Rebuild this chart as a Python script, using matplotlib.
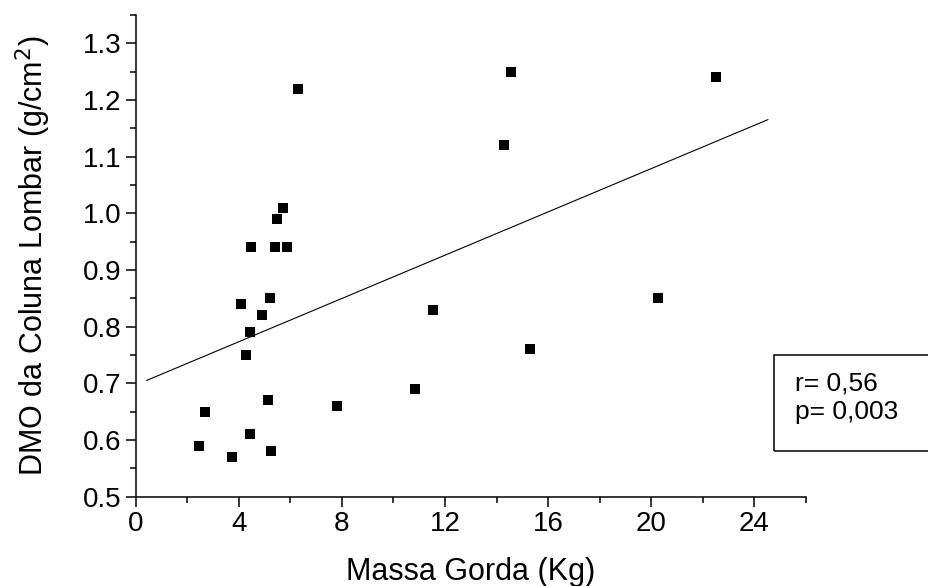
import numpy as np
import matplotlib
matplotlib.use('Agg')
import matplotlib.pyplot as plt
from matplotlib.patches import Rectangle
from matplotlib.ticker import MultipleLocator

plt.rcParams['font.family'] = ['Liberation Sans', 'DejaVu Sans']

# data
massa_gorda = [2.44, 2.69, 3.73, 4.08, 4.29, 4.44, 4.44, 4.48, 4.90, 5.15,
               5.22, 5.24, 5.41, 5.48, 5.71, 5.88, 6.28, 7.80, 10.82, 11.52,
               14.29, 14.55, 15.29, 20.26, 22.51]
dmo = [0.59, 0.65, 0.57, 0.84, 0.75, 0.79, 0.61, 0.94, 0.82, 0.67,
       0.85, 0.58, 0.94, 0.99, 1.01, 0.94, 1.22, 0.66, 0.69, 0.83,
       1.12, 1.25, 0.76, 0.85, 1.24]

# regression line as drawn
fit_x = [0.43, 24.52]
fit_intercept = 0.697
fit_slope = 0.0191

stats_text = "r= 0,56\np= 0,003"

fig = plt.figure(figsize=(9.29, 5.86), dpi=100)
ax = fig.add_axes([0.146, 0.1524, 0.8676 - 0.146, 0.9744 - 0.1524])

ax.scatter(massa_gorda, dmo, marker='s', s=55, color='black', linewidths=0, zorder=3)
fx = np.array(fit_x)
ax.plot(fx, fit_intercept + fit_slope * fx, color='black', lw=0.8)

ax.set_xlim(0, 26)
ax.set_ylim(0.5, 1.35)
ax.xaxis.set_major_locator(MultipleLocator(4))
ax.xaxis.set_minor_locator(MultipleLocator(2))
ax.yaxis.set_minor_locator(MultipleLocator(0.05))
ax.set_yticks([0.5, 0.6, 0.7, 0.8, 0.9, 1.0, 1.1, 1.2, 1.3])
ax.set_yticklabels(['0.5', '0.6', '0.7', '0.8', '0.9', '1.0', '1.1', '1.2', '1.3'])

ax.spines['top'].set_visible(False)
ax.spines['right'].set_visible(False)
for s in ['left', 'bottom']:
    ax.spines[s].set_linewidth(1.1)
ax.tick_params(which='major', direction='out', length=7, width=1.1, labelsize=20, pad=3)
ax.tick_params(which='minor', direction='out', length=4, width=1.1)

ax.set_xlabel('Massa Gorda (Kg)', fontsize=22, labelpad=15)
ax.set_ylabel('DMO da Coluna Lombar (g/cm$^2$)', fontsize=22, labelpad=22)

box = Rectangle((774 / 929, 1 - 451 / 586), 0.2, 96 / 586, transform=fig.transFigure,
                fill=False, edgecolor='black', lw=1.1)
fig.add_artist(box)
fig.text(795 / 929, 1 - 398 / 586, stats_text, fontsize=19, va='center', ha='left',
         linespacing=1.25)

fig.savefig('out.png', dpi=100)
